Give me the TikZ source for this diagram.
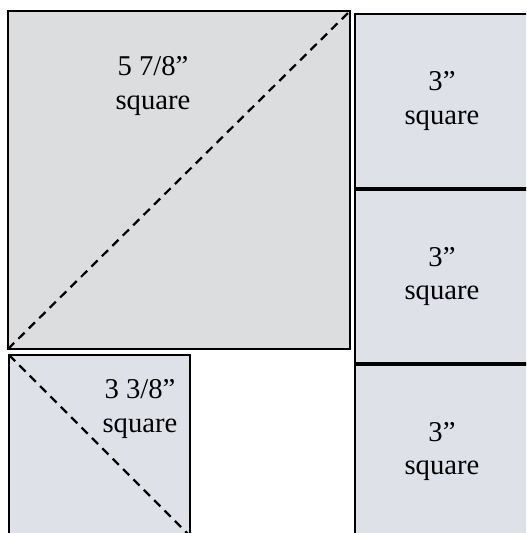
\documentclass[tikz,border=0pt]{standalone}
\usepackage{fontspec}
\setmainfont{Liberation Serif}
\usepackage{xcolor}
\usepackage{tikz}
\usetikzlibrary{positioning}
\definecolor{quiltgray}{HTML}{DCDDDF}
\definecolor{quiltblue}{HTML}{DEE1E7}

\begin{document}
\begin{tikzpicture}[
  x=0.75pt, y=-0.75pt,
  patch/.style={draw=black, line width=2pt, inner sep=0pt, outer sep=0pt, align=center, font=\fontsize{21.5}{25}\selectfont},
  bigpatch/.style={patch, fill=quiltgray, minimum width=342*0.75pt, minimum height=338*0.75pt},
  halfpatch/.style={patch, fill=quiltblue, minimum width=181*0.75pt, minimum height=181*0.75pt},
  sqpatch/.style={patch, fill=quiltblue, minimum width=174*0.75pt, minimum height=174*0.75pt},
  cutline/.style={draw=black, line width=1.7pt, dash pattern=on 6.5pt off 4.5pt},
  size/.style={align=center, inner sep=0pt, font=\fontsize{21.5}{25}\selectfont}
]
\useasboundingbox (0,0) rectangle (526,533);
\clip (0,0) rectangle (526,533);
\node[bigpatch] (big) at (179,180) {};
\node[halfpatch] (half) at (99.5,445.5) {};
\node[sqpatch] (sqa) at (442,101) {3”\\square};
\node[sqpatch, below=1pt of sqa] (sqb) {3”\\square};
\node[sqpatch, below=1pt of sqb] (sqc) {3”\\square};
\draw[cutline] (big.south west) -- (big.north east);
\draw[cutline] (half.north west) -- (half.south east);
\node[size] (bigsize) at (153,86) {5 7/8”\\square};
\node[size] (halfsize) at (140,409) {3 3/8”\\square};
\end{tikzpicture}
\end{document}
